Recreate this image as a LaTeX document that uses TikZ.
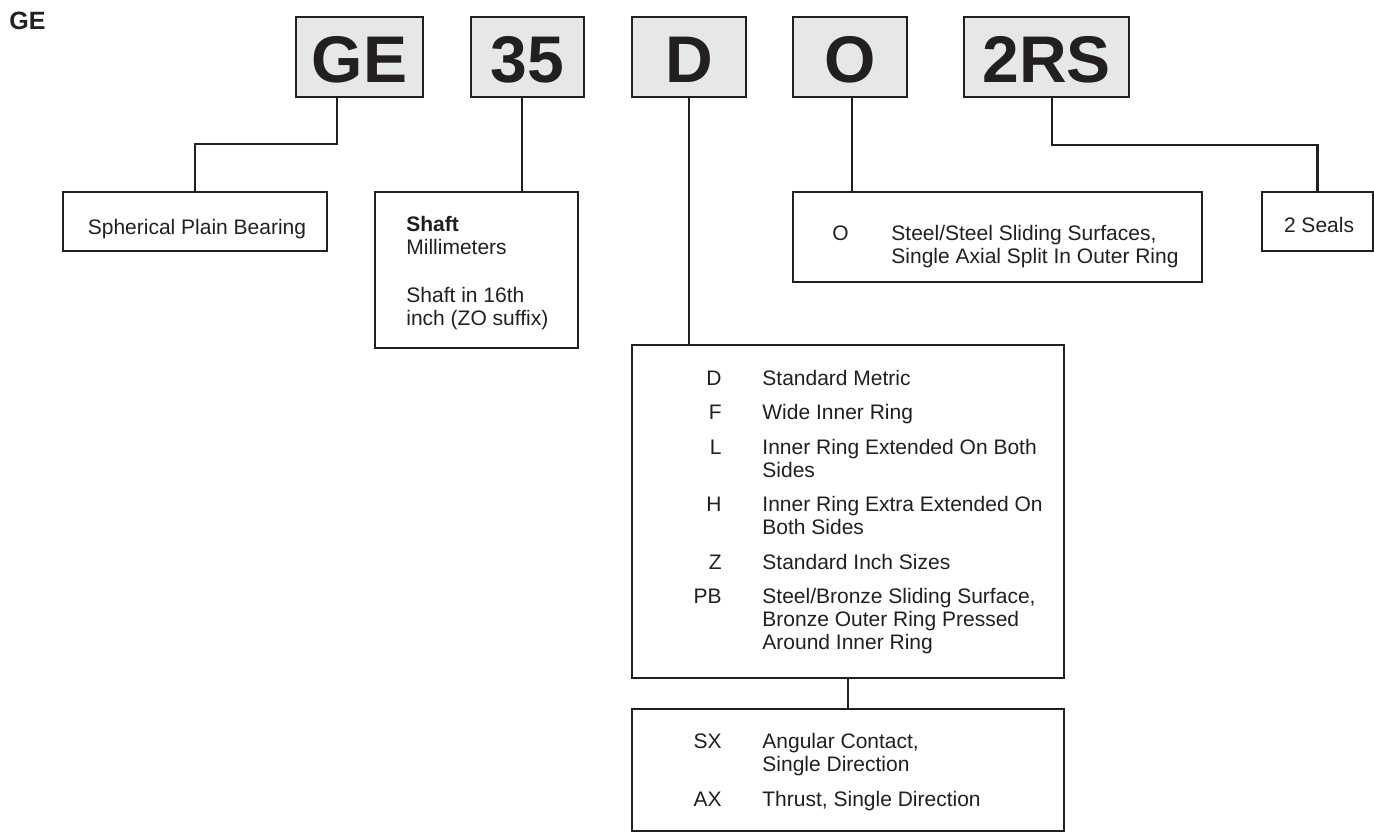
\documentclass[tikz,border=0pt]{standalone}
\usepackage{fontspec}
\setmainfont{Liberation Sans}
\usetikzlibrary{fit,calc}
\definecolor{ink}{HTML}{231F20}
\definecolor{codegray}{HTML}{E6E7E8}
\tikzset{
  codebox/.style={draw=ink, fill=codegray, line width=1.1pt, inner sep=0pt},
  codetext/.style={inner sep=0pt, text=ink, font=\fontsize{33}{33}\selectfont\bfseries},
  descbox/.style={draw=ink, line width=1.1pt, inner sep=0pt},
  link/.style={draw=ink, line width=1.1pt},
  txt/.style={inner sep=0pt, anchor=base west, text=ink,
    font=\fontsize{10.5}{11.5}\selectfont},
  key/.style={txt, anchor=base east},
}
\begin{document}
\begin{tikzpicture}[x=0.5pt,y=-0.5pt]
  \useasboundingbox (0,0) rectangle (1374,832);
  \node[txt, font=\fontsize{12.5}{12.5}\selectfont\bfseries] (title) at (9,29) {GE};
  % code boxes
  \node[codebox, fit={(296,17) (423,97)}] (ge) {};
  \node[codebox, fit={(471,17) (584,97)}] (size) {};
  \node[codebox, fit={(632,17) (746,97)}] (design) {};
  \node[codebox, fit={(793,17) (907,97)}] (mat) {};
  \node[codebox, fit={(964,17) (1129,97)}] (seal) {};
  \node[codetext, anchor=base] (get) at ($(ge.center)+(0,25)$) {GE};
  \node[codetext, anchor=base] (sizet) at ($(size.center)+(0,25)$) {35};
  \node[codetext, anchor=base] (designt) at ($(design.center)+(0,25)$) {D};
  \node[codetext, anchor=base] (matt) at ($(mat.center)+(0,25)$) {O};
  \node[codetext, anchor=base] (sealt) at ($(seal.center)+(0,25)$) {2RS};
  % description boxes
  \node[descbox, fit={(63,192) (327,251)}] (gedesc) {};
  \node[descbox, fit={(375,192) (578,348)}] (sizedesc) {};
  \node[descbox, fit={(793,192) (1202,282)}] (matdesc) {};
  \node[descbox, fit={(1262,192) (1373,251)}] (sealdesc) {};
  \node[descbox, fit={(632,345) (1064,678)}] (designdesc) {};
  \node[descbox, fit={(632,709) (1064,831)}] (extra) {};
  \node[txt, anchor=base] (g1) at (197,234) {Spherical Plain Bearing};
  \node[txt, anchor=base] (e1) at (1319,232) {2 Seals};
  % shaft size
  \node[txt, font=\fontsize{10.5}{11.5}\selectfont\bfseries] (s1) at (406,231) {Shaft};
  \node[txt] (s2) at (406,254) {Millimeters};
  \node[txt] (s3) at (406,302) {Shaft in 16th};
  \node[txt] (s4) at (406,325) {inch (ZO suffix)};
  % material
  \node[key] (ok) at (849,240) {O};
  \node[txt] (o1) at (891,240) {Steel/Steel Sliding Surfaces,};
  \node[txt] (o2) at (891,263) {Single Axial Split In Outer Ring};
  % design
  \node[key] (dk) at (722,385) {D};
  \node[txt] (d1) at (762,385) {Standard Metric};
  \node[key] (fk) at (722,419.5) {F};
  \node[txt] (f1) at (762,419.5) {Wide Inner Ring};
  \node[key] (lk) at (722,454) {L};
  \node[txt] (l1) at (762,454) {Inner Ring Extended On Both};
  \node[txt] (l2) at (762,477) {Sides};
  \node[key] (hk) at (722,511.5) {H};
  \node[txt] (h1) at (762,511.5) {Inner Ring Extra Extended On};
  \node[txt] (h2) at (762,534.5) {Both Sides};
  \node[key] (zk) at (722,569) {Z};
  \node[txt] (z1) at (762,569) {Standard Inch Sizes};
  \node[key] (pk) at (722,603.5) {PB};
  \node[txt] (p1) at (762,603.5) {Steel/Bronze Sliding Surface,};
  \node[txt] (p2) at (762,626.5) {Bronze Outer Ring Pressed};
  \node[txt] (p3) at (762,649.5) {Around Inner Ring};
  % contact type
  \node[key] (sxk) at (722,748) {SX};
  \node[txt] (sx1) at (762,748) {Angular Contact,};
  \node[txt] (sx2) at (762,771) {Single Direction};
  \node[key] (axk) at (722,806) {AX};
  \node[txt] (ax1) at (762,806) {Thrust, Single Direction};
  % connectors
  \draw[link] ($(ge.south)+(-22.5,0)$) -- ++(0,46) -| (gedesc.north);
  \draw[link] ($(size.south)+(-5.5,0)$) coordinate (sz) -- (sz |- sizedesc.north);
  \draw[link] (design.south) -- (design.south |- designdesc.north);
  \draw[link] ($(mat.south)+(2,0)$) coordinate (mt) -- (mt |- matdesc.north);
  \draw[link] ($(seal.south)+(5.5,0)$) -- ++(0,47) -| (sealdesc.north);
  \draw[link] (designdesc.south) -- (extra.north);
\end{tikzpicture}
\end{document}
